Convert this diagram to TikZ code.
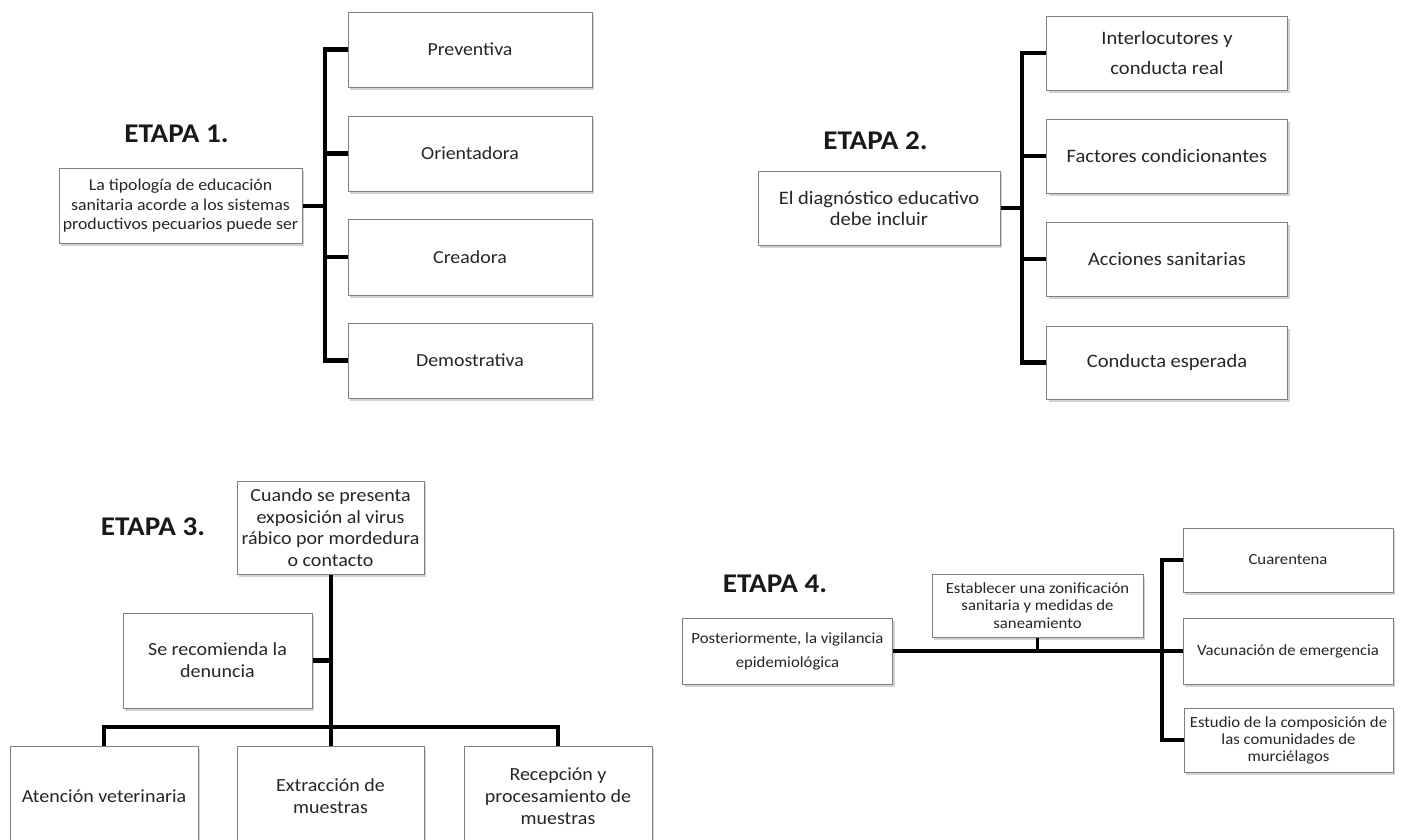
\documentclass[tikz,border=0pt]{standalone}
\usepackage{fontspec}
\setmainfont{Carlito}[FakeStretch=1.08]
\usetikzlibrary{shadows}
\tikzset{
  etapa/.style={font=\fontsize{27}{32}\selectfont\bfseries, text=black!90},
  box/.style={draw=black!50, line width=1pt, fill=white, align=center, inner sep=1pt,
    drop shadow={shadow xshift=2pt, shadow yshift=-2.5pt, opacity=0.35},
    text=black!85},
  fa/.style={font=\fontsize{18.4}{22}\selectfont},
  fb/.style={font=\fontsize{16.5}{19.5}\selectfont},
  fc/.style={font=\fontsize{19}{21}\selectfont},
  fd/.style={font=\fontsize{18.5}{21.7}\selectfont},
  fe/.style={font=\fontsize{15.5}{17.5}\selectfont},
  conn/.style={line width=4.5pt, black},
  thinconn/.style={line width=3pt, black}
}
\begin{document}
\begin{tikzpicture}[x=1pt,y=-1pt]
\clip (0,0) rectangle (1401,839);
\fill[white] (0,0) rectangle (1401,839);

% ---------- ETAPA 1 ----------
\node[etapa] (e1) at (176.5,133.5) {ETAPA 1.};
\node[box,fb,minimum width=243pt,minimum height=75pt] (m1) at (180.5,206)
  {La tipología de educación\\sanitaria acorde a los sistemas\\productivos pecuarios puede ser};
\node[box,fa,minimum width=244pt,minimum height=75pt] (p1) at (470,49.5) {Preventiva};
\node[box,fa,minimum width=244pt,minimum height=75pt] (p2) at (470,153.5) {Orientadora};
\node[box,fa,minimum width=244pt,minimum height=76pt] (p3) at (470,257) {Creadora};
\node[box,fa,minimum width=244pt,minimum height=75pt] (p4) at (470,360.5) {Demostrativa};
\coordinate (v1) at (325,206);
\draw[conn] (m1.east) -- (m1.east -| v1);
\draw[conn] (p1.west) -| (v1) |- (p4.west);
\draw[conn] (p2.west) -- (p2.west -| v1);
\draw[conn] (p3.west) -- (p3.west -| v1);

% ---------- ETAPA 2 ----------
\node[etapa] (e2) at (875.5,140.5) {ETAPA 2.};
\node[box,fc,minimum width=242pt,minimum height=74pt] (m2) at (879,208)
  {El diagnóstico educativo\\debe incluir};
\node[box,font=\fontsize{19}{30}\selectfont,minimum width=241pt,minimum height=74pt] (q1) at (1167,53)
  {Interlocutores y\\conducta real};
\node[box,fc,minimum width=241pt,minimum height=74pt] (q2) at (1167,156) {Factores condicionantes};
\node[box,fc,minimum width=241pt,minimum height=74pt] (q3) at (1167,259) {Acciones sanitarias};
\node[box,fc,minimum width=241pt,minimum height=73pt] (q4) at (1167,362.5) {Conducta esperada};
\coordinate (v2) at (1022,208);
\draw[conn] (m2.east) -- (m2.east -| v2);
\draw[conn] (q1.west) -| (v2) |- (q4.west);
\draw[conn] (q2.west) -- (q2.west -| v2);
\draw[conn] (q3.west) -- (q3.west -| v2);

% ---------- ETAPA 3 ----------
\node[etapa] (e3) at (153,527) {ETAPA 3.};
\node[box,fd,minimum width=187pt,minimum height=93pt] (t3) at (330.5,527.5)
  {Cuando se presenta\\exposición al virus\\rábico por mordedura\\o contacto};
\node[box,font=\fontsize{18.5}{22}\selectfont,minimum width=189pt,minimum height=95pt] (s3) at (217.5,660.5)
  {Se recomienda la\\denuncia};
\node[box,fd,minimum width=188pt,minimum height=100pt] (b1) at (104,796) {Atención veterinaria};
\node[box,fd,minimum width=187pt,minimum height=100pt] (b2) at (330.5,796) {Extracción de\\muestras};
\node[box,fd,minimum width=188pt,minimum height=100pt] (b3) at (558,796) {Recepción y\\procesamiento de\\muestras};
\coordinate (h3) at (331,727);
\draw[conn] (t3.south -| h3) -- (b2.north -| h3);
\draw[conn] (s3.east) -- (s3.east -| h3);
\draw[conn] (b1.north) |- (h3) -| (b3.north);

% ---------- ETAPA 4 ----------
\node[etapa] (e4) at (775,583.5) {ETAPA 4.};
\node[box,font=\fontsize{15.5}{24}\selectfont,minimum width=210pt,minimum height=66pt] (m4) at (787.5,651)
  {Posteriormente, la vigilancia\\epidemiológica};
\node[box,fe,minimum width=211pt,minimum height=63pt] (z4) at (1037.5,605.5)
  {Establecer una zonificación\\sanitaria y medidas de\\saneamiento};
\node[box,fe,minimum width=210pt,minimum height=64pt] (r1) at (1288,560) {Cuarentena};
\node[box,fe,minimum width=210pt,minimum height=66pt] (r2) at (1288,651) {Vacunación de emergencia};
\node[box,font=\fontsize{15.5}{17}\selectfont,minimum width=209pt,minimum height=64pt] (r3) at (1288.5,740)
  {Estudio de la composición de\\las comunidades de\\murciélagos};
\coordinate (v4) at (1162,651);
\draw[conn] (m4.east) -- (r2.west);
\draw[thinconn] (z4.south) -- (z4.south |- v4);
\draw[conn] (r1.west) -| (v4) |- (r3.west);
\end{tikzpicture}
\end{document}
